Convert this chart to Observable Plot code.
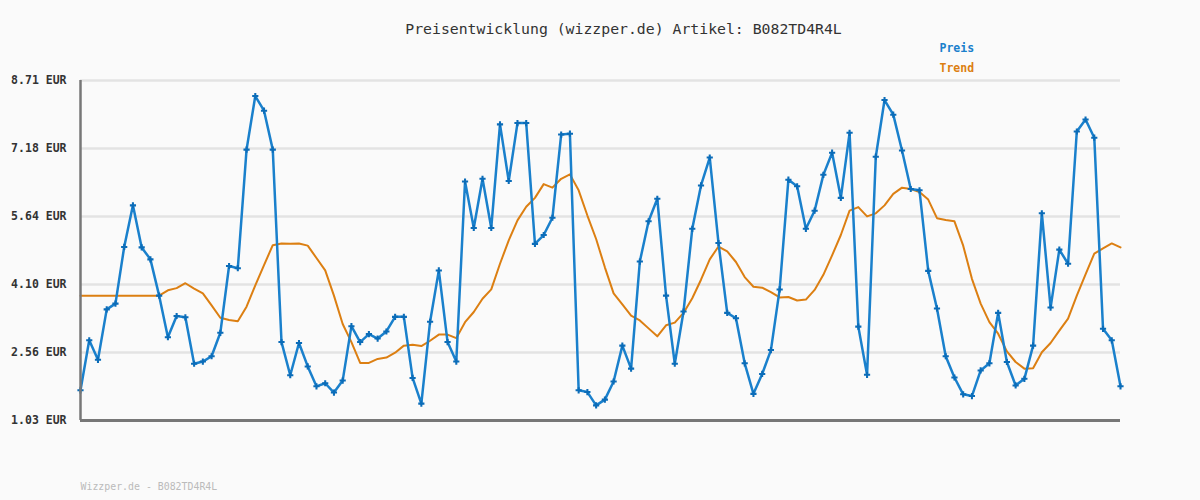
<!DOCTYPE html>
<html>
<head>
<meta charset="utf-8">
<script src="https://cdn.jsdelivr.net/npm/d3@7"></script>
<script src="https://cdn.jsdelivr.net/npm/@observablehq/plot@0.6"></script>
<style>
  html, body { margin: 0; padding: 0; background: #fafafa; }
  #chart svg { display: block; }
</style>
</head>
<body>
<div id="chart"></div>
<script>
const titleText = "Preisentwicklung (wizzper.de) Artikel: B082TD4R4L";
const footerText = "Wizzper.de - B082TD4R4L";
const seriesNames = ["Preis", "Trend"];
const seriesColors = ["#1a80cc", "#dc7f12"];
const markerColor = "#0b6cb8";

const yTicks = [1.028, 2.565, 4.102, 5.638, 7.175, 8.712];
const yTickLabels = ["1.03 EUR", "2.56 EUR", "4.10 EUR", "5.64 EUR", "7.18 EUR", "8.71 EUR"];

const preis = [
  1.71, 2.84, 2.40, 3.54, 3.67, 4.95, 5.89, 4.94, 4.67, 3.85,
  2.91, 3.39, 3.36, 2.31, 2.36, 2.48, 3.01, 4.52, 4.47, 7.15,
  8.36, 8.03, 7.15, 2.80, 2.05, 2.78, 2.25, 1.80, 1.87, 1.66,
  1.93, 3.16, 2.80, 2.98, 2.88, 3.04, 3.37, 3.37, 1.99, 1.41,
  3.26, 4.42, 2.80, 2.36, 6.43, 5.38, 6.49, 5.38, 7.72, 6.44,
  7.75, 7.75, 5.02, 5.22, 5.61, 7.49, 7.51, 1.71, 1.67, 1.37,
  1.50, 1.91, 2.72, 2.20, 4.62, 5.53, 6.04, 3.85, 2.31, 3.49,
  5.36, 6.34, 6.97, 5.04, 3.46, 3.34, 2.32, 1.63, 2.08, 2.62,
  3.99, 6.47, 6.32, 5.36, 5.77, 6.58, 7.08, 6.06, 7.53, 3.15,
  2.06, 6.99, 8.27, 7.94, 7.13, 6.26, 6.23, 4.41, 3.56, 2.48,
  2.00, 1.62, 1.58, 2.16, 2.32, 3.46, 2.35, 1.82, 1.97, 2.72,
  5.71, 3.58, 4.89, 4.57, 7.56, 7.83, 7.42, 3.10, 2.84, 1.80
];

const trend = [
  3.85, 3.85, 3.85, 3.85, 3.85, 3.85, 3.85, 3.85, 3.85, 3.85,
  3.97, 4.02, 4.13, 4.01, 3.90, 3.63, 3.35, 3.30, 3.27, 3.60,
  4.08, 4.54, 4.99, 5.03, 5.02, 5.03, 4.98, 4.70, 4.42, 3.85,
  3.21, 2.80, 2.33, 2.33, 2.42, 2.45, 2.56, 2.72, 2.74, 2.71,
  2.83, 2.97, 2.97, 2.89, 3.25, 3.48, 3.78, 3.99, 4.57, 5.10,
  5.55, 5.86, 6.06, 6.37, 6.29, 6.49, 6.59, 6.23, 5.66, 5.13,
  4.49, 3.90, 3.65, 3.40, 3.29, 3.11, 2.93, 3.18, 3.24, 3.46,
  3.79, 4.21, 4.67, 4.96, 4.85, 4.61, 4.27, 4.05, 4.03, 3.93,
  3.81, 3.82, 3.74, 3.76, 3.98, 4.32, 4.76, 5.22, 5.77, 5.85,
  5.64, 5.71, 5.89, 6.15, 6.29, 6.26, 6.19, 6.02, 5.60, 5.56,
  5.53, 4.98, 4.23, 3.67, 3.25, 2.99, 2.59, 2.35, 2.20, 2.21,
  2.57, 2.78, 3.06, 3.33, 3.85, 4.33, 4.80, 4.92, 5.03, 4.94
];

const idx = preis.map((_, i) => i);
const mono = "'DejaVu Sans Mono', 'Liberation Mono', monospace";

const chart = Plot.plot({
  width: 1200,
  height: 500,
  marginLeft: 80,
  marginRight: 80,
  marginTop: 80,
  marginBottom: 80,
  style: { background: "#fafafa", fontFamily: mono, overflow: "visible" },
  x: { type: "linear", domain: [0, preis.length - 1], axis: null },
  y: { type: "linear", domain: [yTicks[0], yTicks[yTicks.length - 1]], axis: null },
  marks: [
    Plot.ruleY(yTicks.slice(1), { stroke: "#e3e3e3", strokeWidth: 2.5 }),
    Plot.text(yTicks, {
      y: d => d, frameAnchor: "left", dx: -14, textAnchor: "end",
      text: (d, i) => yTickLabels[i], fontSize: 11.5, fontWeight: "bold", fill: "#333"
    }),
    Plot.lineY(trend, { x: idx, y: d => d, stroke: seriesColors[1], strokeWidth: 2 }),
    Plot.lineY(preis, { x: idx, y: d => d, stroke: seriesColors[0], strokeWidth: 2.5 }),
    Plot.dot(preis, { x: idx, y: d => d, symbol: "cross", r: 2.6, fill: markerColor, stroke: "none" }),
    Plot.ruleX([0], { stroke: "#777", strokeWidth: 2.5 }),
    Plot.ruleY([yTicks[0]], { stroke: "#777", strokeWidth: 3 }),
    Plot.text([titleText], {
      frameAnchor: "top", dx: 23, dy: -57, text: d => d,
      fontSize: 14.8, fill: "#333"
    }),
    Plot.text([seriesNames[0]], {
      frameAnchor: "top-left", dx: 859, dy: -37, textAnchor: "start", text: d => d,
      fontSize: 11.5, fontWeight: "bold", fill: seriesColors[0]
    }),
    Plot.text([seriesNames[1]], {
      frameAnchor: "top-left", dx: 859, dy: -17, textAnchor: "start", text: d => d,
      fontSize: 11.5, fontWeight: "bold", fill: seriesColors[1]
    }),
    Plot.text([footerText], {
      frameAnchor: "bottom-left", dx: 0, dy: 69, textAnchor: "start", text: d => d,
      fontSize: 9.9, fill: "#bbb"
    })
  ]
});
document.getElementById("chart").appendChild(chart);
</script>
</body>
</html>
